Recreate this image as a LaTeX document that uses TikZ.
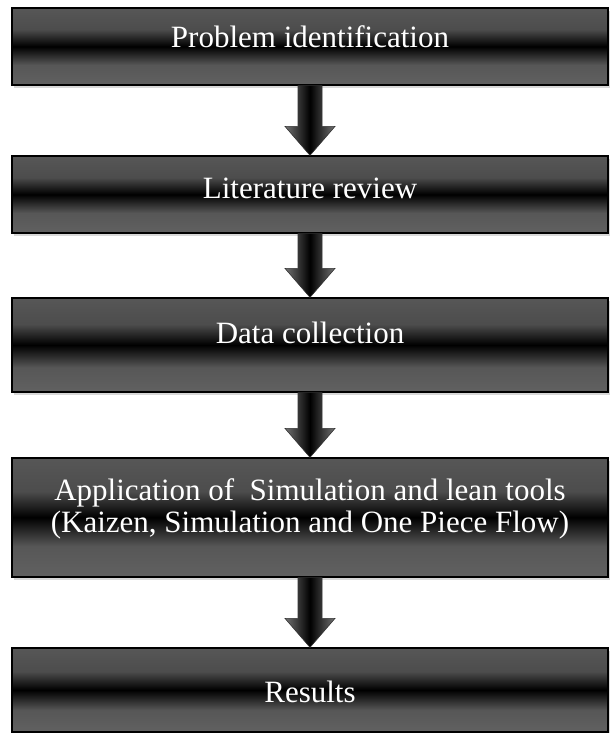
\documentclass[tikz,border=0pt]{standalone}
\usepackage{fontspec}
\setmainfont{Liberation Serif}
\usetikzlibrary{calc,shadows}

% grey at top and bottom, a narrow black band across the middle
\pgfdeclareverticalshading{bandshade}{100bp}{color(0bp)=(black!62); color(25bp)=(black!62);
  color(38bp)=(black!66); color(50bp)=(black); color(61bp)=(black!70);
  color(75bp)=(black!66); color(100bp)=(black!66)}

\tikzset{
  stepbox/.style={draw=black, line width=1.2pt, shade, shading=bandshade,
    minimum width=596pt, text=white, text depth=8pt, inner sep=0pt, align=center,
    font=\fontsize{31}{32}\selectfont,
    drop shadow={shadow xshift=2pt, shadow yshift=-3pt, fill=black!30}},
  blockarrow/.style={draw=black!80, line width=0.6pt, shade,
    left color=black!55, right color=black!55, middle color=black}
}

% block arrow from the bottom of one box to the top of the next
\newcommand{\flowarrow}[2]{%
  \path[blockarrow] let \p1=(#1.south), \p2=(#2.north) in
    (\x1-12pt,\y1) -- (\x1+12pt,\y1) -- (\x1+12pt,\y2+29pt)
    -- (\x1+25pt,\y2+29pt) -- (\x1,\y2) -- (\x1-25pt,\y2+29pt)
    -- (\x1-12pt,\y2+29pt) -- cycle;}

\begin{document}
\begin{tikzpicture}[x=1pt,y=-1pt]
\useasboundingbox (0,0) rectangle (613,733);

\node[stepbox, minimum height=77pt, text height=11pt] (ident) at (310,46.5) {Problem identification};
\node[stepbox, minimum height=77pt, text height=15pt] (review) at (310,194.5) {Literature review};
\node[stepbox, minimum height=94pt, text height=4pt] (collect) at (310,345) {Data collection};
\node[stepbox, minimum height=119pt, text height=45pt, text depth=16pt] (apply) at (310,517.5)
  {Application of\ \ Simulation and lean tools\\(Kaizen, Simulation and One Piece Flow)};
\node[stepbox, minimum height=84pt, text height=32pt] (results) at (310,690) {Results};

\flowarrow{ident}{review}
\flowarrow{review}{collect}
\flowarrow{collect}{apply}
\flowarrow{apply}{results}
\end{tikzpicture}
\end{document}
